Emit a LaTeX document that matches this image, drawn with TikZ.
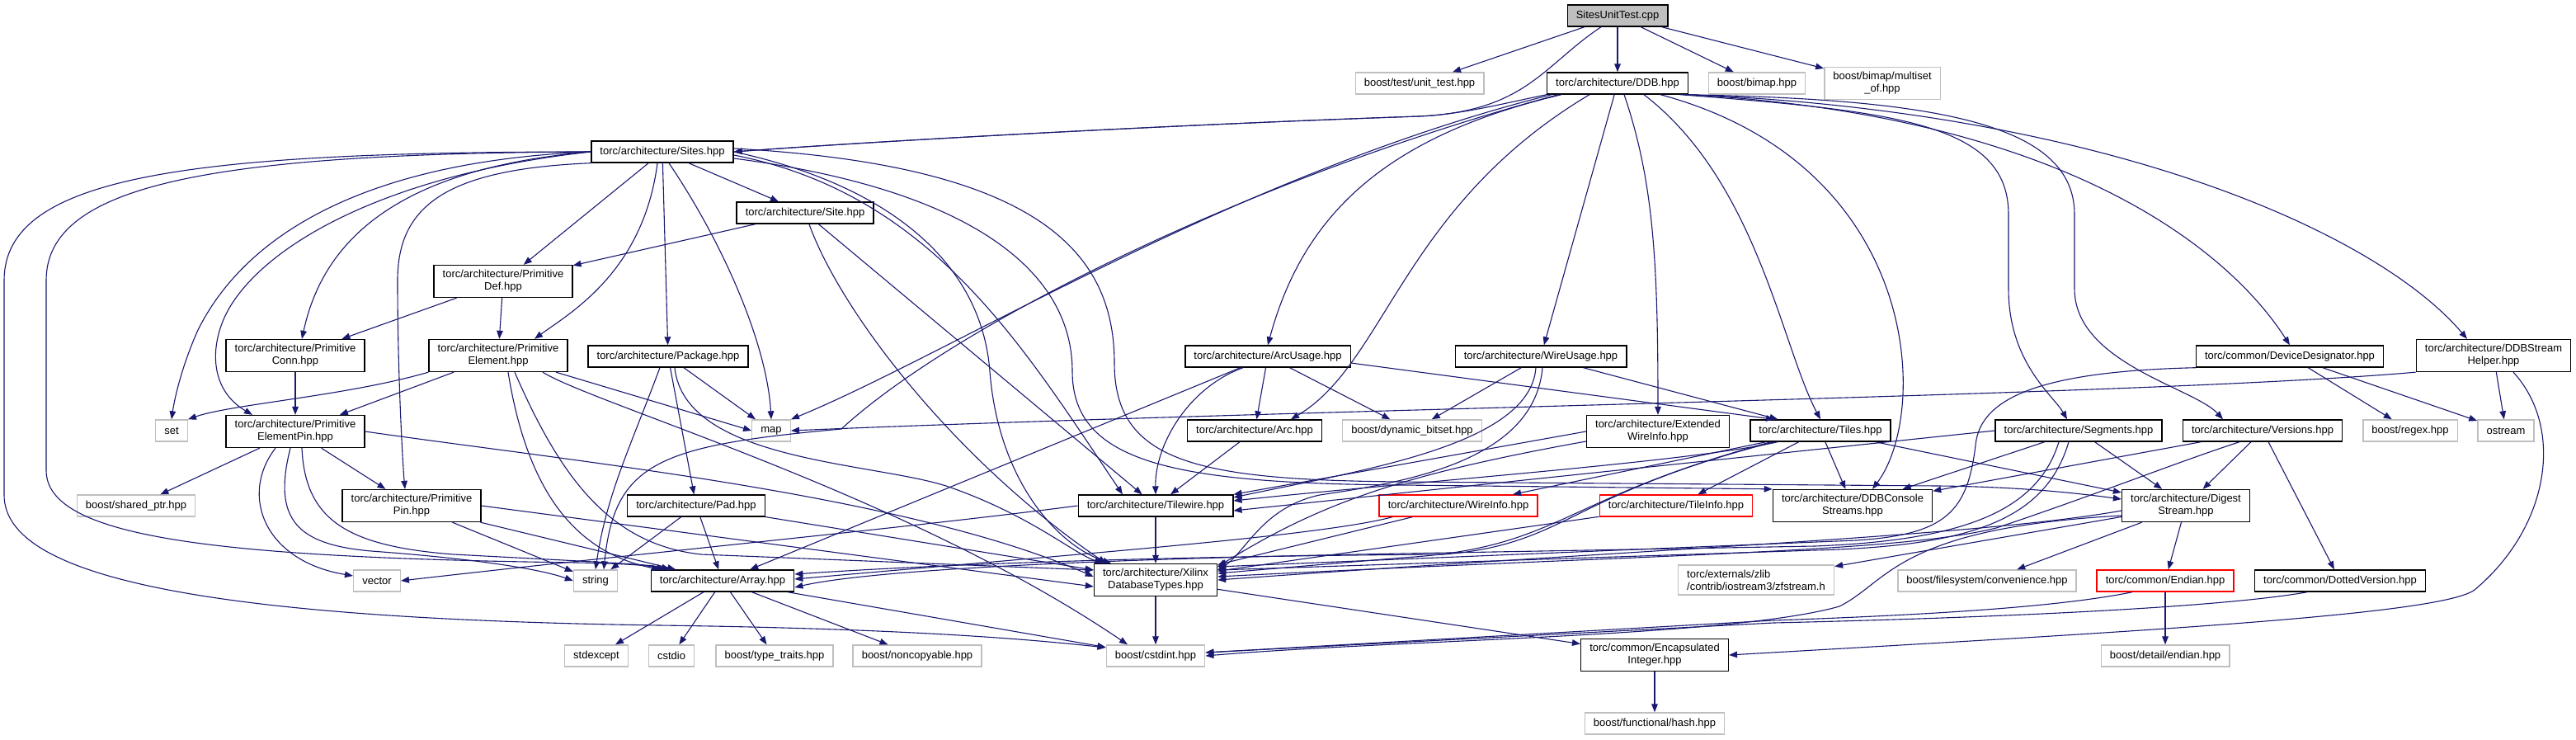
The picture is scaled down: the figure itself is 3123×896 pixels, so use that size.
\documentclass[tikz,border=0pt]{standalone}
\usepackage{fontspec}
\newfontfamily\dxfont{Liberation Sans}
\usepackage{tikz}
\usetikzlibrary{arrows.meta, calc}

\definecolor{edgeblue}{HTML}{191970}
\definecolor{sysgray}{HTML}{BFBFBF}

\begin{document}
\begin{tikzpicture}[
  x=0.5pt, y=-0.5pt,
  % ---- styles ----
  filebox/.style = {
    draw=black, line width=0.7pt, fill=white,
    font=\dxfont\fontsize{6.5}{7.4}\selectfont,
    inner xsep=5.3pt, inner ysep=3pt,
    minimum height=13pt,
    align=center
  },
  sysbox/.style = {filebox, draw=sysgray},
  redbox/.style = {filebox, draw=red},
  rootbox/.style = {filebox, fill=sysgray},
  dep/.style = {-{Triangle[length=5pt, width=3.8pt]}, line width=0.55pt, edgeblue}
]
\useasboundingbox (0,0) rectangle (3123,896);

% ============ FILES ============

% --- top ---
\node[rootbox] (root) at (1961,19) {SitesUnitTest.cpp};
\node[sysbox] (unittest) at (1721,101) {boost/test/unit\_test.hpp};
\node[filebox] (ddb) at (1961,101) {torc/architecture/DDB.hpp};
\node[sysbox] (bimap) at (2130,101) {boost/bimap.hpp};
\node[sysbox] (multiset) at (2282,101) {boost/bimap/multiset\\\_of.hpp};

% --- sites and primitives ---
\node[filebox] (sites) at (803,184) {torc/architecture/Sites.hpp};
\node[filebox] (site) at (976,258) {torc/architecture/Site.hpp};
\node[filebox] (primdef) at (610,341) {torc/architecture/Primitive\\Def.hpp};
\node[filebox] (primconn) at (358,431) {torc/architecture/Primitive\\Conn.hpp};
\node[filebox] (primelem) at (604,431) {torc/architecture/Primitive\\Element.hpp};
\node[filebox] (package) at (810,432) {torc/architecture/Package.hpp};
\node[filebox] (arcusage) at (1537,432) {torc/architecture/ArcUsage.hpp};
\node[filebox] (wireusage) at (1868,432) {torc/architecture/WireUsage.hpp};
\node[filebox] (devdesig) at (2776,432) {torc/common/DeviceDesignator.hpp};
\node[filebox] (streamhelper) at (3023,431) {torc/architecture/DDBStream\\Helper.hpp};

% --- middle row ---
\node[sysbox] (set) at (208,522) {set};
\node[filebox] (primelempin) at (358,523) {torc/architecture/Primitive\\ElementPin.hpp};
\node[sysbox] (map) at (935,522) {map};
\node[filebox] (arc) at (1521,522) {torc/architecture/Arc.hpp};
\node[sysbox] (bitset) at (1712,522) {boost/dynamic\_bitset.hpp};
\node[filebox] (extwireinfo) at (2010,523) {torc/architecture/Extended\\WireInfo.hpp};
\node[filebox] (tiles) at (2207,522) {torc/architecture/Tiles.hpp};
\node[filebox] (segments) at (2520,522) {torc/architecture/Segments.hpp};
\node[filebox] (versions) at (2743,522) {torc/architecture/Versions.hpp};
\node[sysbox] (regex) at (2922,522) {boost/regex.hpp};
\node[sysbox] (ostream) at (3038,522) {ostream};

\node[sysbox] (sharedptr) at (165,613) {boost/shared\_ptr.hpp};
\node[filebox] (primpin) at (499,613) {torc/architecture/Primitive\\Pin.hpp};
\node[filebox] (pad) at (844,613) {torc/architecture/Pad.hpp};
\node[filebox] (tilewire) at (1401,613) {torc/architecture/Tilewire.hpp};
\node[redbox] (wireinfo) at (1768,613) {torc/architecture/WireInfo.hpp};
\node[redbox] (tileinfo) at (2032,613) {torc/architecture/TileInfo.hpp};
\node[filebox] (consolestreams) at (2246,613) {torc/architecture/DDBConsole\\Streams.hpp};
\node[filebox] (digest) at (2650,613) {torc/architecture/Digest\\Stream.hpp};

% --- lower rows ---
\node[sysbox] (vector) at (457,704) {vector};
\node[sysbox] (string) at (722,704) {string};
\node[filebox] (array) at (876,704) {torc/architecture/Array.hpp};
\node[filebox] (xilinx) at (1401,703) {torc/architecture/Xilinx\\DatabaseTypes.hpp};
\node[sysbox, align=left] (zfstream) at (2129,703) {torc/externals/zlib\\/contrib/iostream3/zfstream.h};
\node[sysbox] (fsconv) at (2409,704) {boost/filesystem/convenience.hpp};
\node[redbox] (endian) at (2625,704) {torc/common/Endian.hpp};
\node[filebox] (dotted) at (2837,704) {torc/common/DottedVersion.hpp};

\node[sysbox] (stdexcept) at (723,795) {stdexcept};
\node[sysbox] (cstdio) at (814,795) {cstdio};
\node[sysbox] (typetraits) at (939,795) {boost/type\_traits.hpp};
\node[sysbox] (noncopyable) at (1112,795) {boost/noncopyable.hpp};
\node[sysbox] (cstdint) at (1401,795) {boost/cstdint.hpp};
\node[filebox] (encapint) at (2006,794) {torc/common/Encapsulated\\Integer.hpp};
\node[sysbox] (detailendian) at (2625,795) {boost/detail/endian.hpp};
\node[sysbox] (hash) at (2006,877) {boost/functional/hash.hpp};

% ============ INCLUDES ============

% SitesUnitTest.cpp
\draw[dep] (root) -- (unittest);
\draw[dep] (root) -- (ddb);
\draw[dep] (root) -- (bimap);
\draw[dep] (root) -- (multiset);
\draw[dep] ([xshift=-10pt]root.south) .. controls (1870,80) and (1850,135) .. (1720,141) .. controls (1400,152) and (1050,172) .. (sites.east);

% DDB.hpp
\draw[dep] (ddb.south west) .. controls (1820,126) and (1770,139) .. (1720,141) .. controls (1400,152) and (1050,172) .. (sites.east);
\draw[dep] ([xshift=-40pt]ddb.south) .. controls (1500,210) and (1150,430) .. (map.north east);
\draw[dep] ([xshift=-36pt]ddb.south) .. controls (1500,220) and (1150,400) .. (1020,520) .. controls (800,540) and (745,560) .. ([xshift=5pt]string.north);
\draw[dep] ([xshift=-34pt]ddb.south) .. controls (1680,165) and (1580,260) .. (arcusage.north);
\draw[dep] ([xshift=-17pt]ddb.south) .. controls (1700,250) and (1680,440) .. ([xshift=22pt]arc.north);
\draw[dep] (ddb) -- (wireusage);
\draw[dep] ([xshift=4pt]ddb.south) .. controls (2005,220) and (2010,320) .. (extwireinfo.north);
\draw[dep] ([xshift=16pt]ddb.south) .. controls (2130,220) and (2160,420) .. (tiles.north);
\draw[dep] ([xshift=26pt]ddb.south) .. controls (2330,200) and (2340,500) .. ([xshift=12pt]consolestreams.north);
\draw[dep] ([xshift=38pt]ddb.south) .. controls (2300,135) and (2435,150) .. (2435,260) -- (2435,350) .. controls (2435,440) and (2490,480) .. ([xshift=-7pt]segments.north);
\draw[dep] ([xshift=40pt]ddb.south) .. controls (2350,120) and (2515,150) .. (2515,260) -- (2515,350) .. controls (2515,440) and (2660,470) .. ([xshift=-24pt]versions.north);
\draw[dep] (ddb.south east) .. controls (2500,140) and (2700,300) .. (devdesig.north);
\draw[dep] (ddb.south east) .. controls (2550,135) and (2880,280) .. ([xshift=-16pt]streamhelper.north);

% Sites.hpp
\draw[dep] (sites) -- (site);
\draw[dep] (sites) -- (primdef);
\draw[dep] (sites) -- (package);
\draw[dep] ([xshift=-3pt]sites.south) .. controls (780,330) and (690,380) .. ([xshift=22pt]primelem.north);
\draw[dep] (sites.west) .. controls (470,205) and (390,300) .. ([xshift=4pt]primconn.north);
\draw[dep] (sites.south west) .. controls (540,205) and (482,250) .. (482,340) .. controls (482,450) and (488,560) .. ([xshift=-4pt]primpin.north);
\draw[dep] (sites.west) .. controls (480,210) and (330,290) .. (280,370) .. controls (255,410) and (250,470) .. ([xshift=-26pt]primelempin.north);
\draw[dep] (sites.west) .. controls (450,195) and (300,280) .. (240,400) .. controls (222,440) and (212,480) .. (set.north);
\draw[dep] (sites.west) .. controls (250,186) and (56,225) .. (56,340) -- (56,570) .. controls (56,650) and (250,676) .. (700,682) .. controls (760,683) and (790,686) .. ([xshift=-35pt]array.north);
\draw[dep] (sites.west) .. controls (220,184) and (5,215) .. (5,340) -- (5,600) .. controls (5,700) and (250,750) .. (800,758) .. controls (1100,762) and (1250,775) .. ([yshift=5pt]cstdint.west);
\draw[dep] ([xshift=4pt]sites.south) .. controls (880,300) and (930,420) .. (map.north);
\draw[dep] (sites.east) .. controls (1080,225) and (1190,320) .. (1200,450) .. controls (1210,580) and (1280,660) .. ([xshift=-27pt]xilinx.north);
\draw[dep] ([yshift=-2pt]sites.east) .. controls (1130,235) and (1240,420) .. ([xshift=-20pt]tilewire.north);
\draw[dep] ([yshift=-4pt]sites.east) .. controls (1180,230) and (1300,330) .. (1300,450) .. controls (1300,560) and (1420,586) .. (1700,588) -- (consolestreams.north west);
\draw[dep] ([yshift=2pt]sites.east) .. controls (1250,200) and (1351,300) .. (1351,440) .. controls (1351,560) and (1450,582) .. (1700,584) -- (2350,589) .. controls (2450,590) and (2520,598) .. ([yshift=4pt]digest.west);

% Site.hpp
\draw[dep] (site) -- (primdef);
\draw[dep] (site) .. controls (1020,380) and (1160,560) .. ([xshift=-30pt]xilinx.north);
\draw[dep] (site) -- (tilewire);

% PrimitiveDef.hpp, PrimitiveConn.hpp
\draw[dep] (primdef) -- (primconn);
\draw[dep] (primdef) -- (primelem);
\draw[dep] (primconn) -- (primelempin);

% PrimitiveElement.hpp
\draw[dep] (primelem.south west) .. controls (420,480) and (280,490) .. (set.north east);
\draw[dep] (primelem) -- (primelempin);
\draw[dep] ([xshift=35pt]primelem.south) -- (map.west);
\draw[dep] ([xshift=6pt]primelem.south) .. controls (640,600) and (700,670) .. ([xshift=-38pt]array.north);
\draw[dep] ([xshift=10pt]primelem.south) .. controls (680,580) and (740,660) .. (850,672) -- ([yshift=6pt]xilinx.west);
\draw[dep] ([xshift=27pt]primelem.south) .. controls (720,490) and (1100,600) .. ([xshift=-17pt]cstdint.north);

% PrimitiveElementPin.hpp
\draw[dep] (primelempin) -- (sharedptr);
\draw[dep] ([xshift=-12pt]primelempin.south) .. controls (290,600) and (320,680) .. ([yshift=3pt]vector.west);
\draw[dep] ([xshift=-3pt]primelempin.south) .. controls (330,630) and (360,660) .. (450,668) .. controls (560,676) and (650,688) .. (string.west);
\draw[dep] ([xshift=4pt]primelempin.south) .. controls (370,630) and (420,662) .. (550,672) .. controls (700,680) and (790,684) .. ([xshift=-32pt]array.north);
\draw[dep] (primelempin) -- (primpin);
\draw[dep] (primelempin.east) .. controls (700,560) and (1100,600) .. ([yshift=2pt]xilinx.west);

% PrimitivePin.hpp
\draw[dep] (primpin) -- (string);
\draw[dep] (primpin) -- (array);
\draw[dep] (primpin.east) -- ([yshift=-4pt]xilinx.west);

% Package.hpp
\draw[dep] (package) -- (map);
\draw[dep] (package) -- (pad);
\draw[dep] ([xshift=-5pt]package.south) .. controls (765,540) and (735,600) .. (string.north);
\draw[dep] ([xshift=4pt]package.south) .. controls (830,560) and (1060,560) .. (1150,590) .. controls (1250,625) and (1300,670) .. ([xshift=-32pt]xilinx.north);

% Pad.hpp
\draw[dep] (pad) -- (string);
\draw[dep] (pad) -- (array);
\draw[dep] (pad) -- (xilinx);

% ArcUsage.hpp
\draw[dep] (arcusage) -- (arc);
\draw[dep] (arcusage) -- (bitset);
\draw[dep] ([yshift=-4pt]arcusage.east) -- ([xshift=-28pt]tiles.north);
\draw[dep] (arcusage) -- (array);
\draw[dep] ([xshift=-15pt]arcusage.south) .. controls (1440,470) and (1400,540) .. (tilewire.north);

% Arc.hpp
\draw[dep] (arc) -- (tilewire);

% WireUsage.hpp
\draw[dep] (wireusage) -- (bitset);
\draw[dep] (wireusage) -- (tiles);
\draw[dep] ([xshift=-3pt]wireusage.south) .. controls (1855,540) and (1650,570) .. ([yshift=5pt]tilewire.east);
\draw[dep] ([xshift=1pt]wireusage.south) .. controls (1860,560) and (1700,585) .. (1600,600) .. controls (1530,615) and (1510,670) .. ([yshift=6pt]xilinx.east);

% ExtendedWireInfo.hpp
\draw[dep] (extwireinfo.west) -- (tilewire.north east);
\draw[dep] ([yshift=-6pt]extwireinfo.west) .. controls (1700,575) and (1600,610) .. ([yshift=8pt]xilinx.east);

% Tiles.hpp
\draw[dep] (tiles) -- (wireinfo);
\draw[dep] (tiles) -- (tileinfo);
\draw[dep] (tiles) -- (consolestreams);
\draw[dep] (tiles) -- (digest);
\draw[dep] ([xshift=-26pt]tiles.south) .. controls (2050,560) and (1700,585) .. ([yshift=3pt]tilewire.east);
\draw[dep] ([xshift=-28pt]tiles.south) .. controls (1900,600) and (1900,660) .. (1750,672) .. controls (1300,675) and (1050,690) .. ([yshift=4pt]array.east);
\draw[dep] ([xshift=-30pt]tiles.south) .. controls (1890,605) and (1890,665) .. (1700,676) -- ([yshift=4pt]xilinx.east);

% Segments.hpp
\draw[dep] (segments.west) -- ([yshift=-3pt]tilewire.east);
\draw[dep] (segments) -- (consolestreams);
\draw[dep] (segments) -- (digest);
\draw[dep] ([xshift=-12pt]segments.south) .. controls (2470,620) and (2380,655) .. (2200,662) -- (1700,671) .. controls (1300,678) and (1050,692) .. ([yshift=-4pt]array.east);
\draw[dep] ([xshift=-6pt]segments.south) .. controls (2480,630) and (2390,662) .. (2200,667) -- ([yshift=6pt]xilinx.east);

% Versions.hpp
\draw[dep] (versions) -- (consolestreams);
\draw[dep] (versions) -- (digest);
\draw[dep] (versions) -- (dotted);
\draw[dep] ([xshift=-14pt]versions.south) .. controls (2640,560) and (2540,600) .. (2420,640) .. controls (2300,670) and (2000,672) .. ([yshift=2pt]xilinx.east);

% DeviceDesignator.hpp
\draw[dep] (devdesig) -- (regex);
\draw[dep] (devdesig) -- (ostream);
\draw[dep] (devdesig.south west) .. controls (2480,450) and (2400,480) .. (2395,540) .. controls (2385,620) and (2360,648) .. (2250,655) -- ([yshift=8pt]xilinx.east);

% DDBStreamHelper.hpp
\draw[dep] (streamhelper.south west) .. controls (2600,480) and (1600,495) .. (map.east);
\draw[dep] (streamhelper) -- (ostream);
\draw[dep] ([xshift=12pt]streamhelper.south) .. controls (3110,520) and (3090,640) .. (3000,715) .. controls (2960,745) and (2600,765) .. (encapint.east);

% Tilewire.hpp
\draw[dep] (tilewire) -- (xilinx);
\draw[dep] (tilewire.west) .. controls (1100,640) and (800,668) .. (vector.east);

% WireInfo.hpp, TileInfo.hpp
\draw[dep] ([xshift=-40pt]wireinfo.south) .. controls (1600,650) and (1300,672) .. ([yshift=1pt]array.east);
\draw[dep] (wireinfo) -- (xilinx);
\draw[dep] (tileinfo) -- (xilinx);

% DigestStream.hpp
\draw[dep] (digest) -- (zfstream);
\draw[dep] (digest) -- (fsconv);
\draw[dep] (digest) -- (endian);
\draw[dep] ([yshift=-3pt]digest.west) .. controls (2400,650) and (2000,665) .. (xilinx.east);
\draw[dep] ([yshift=-6pt]digest.west) .. controls (2300,640) and (2290,705) .. (2230,735) .. controls (2100,772) and (1700,775) .. (cstdint.east);

% Endian.hpp, DottedVersion.hpp
\draw[dep] (endian) -- (detailendian);
\draw[dep] ([xshift=-20pt]endian.south) .. controls (2500,735) and (2350,745) .. (2150,752) -- ([yshift=2pt]cstdint.east);
\draw[dep] ([xshift=-20pt]dotted.south) .. controls (2700,735) and (2450,748) .. (2150,755) -- ([yshift=2pt]cstdint.east);

% XilinxDatabaseTypes.hpp, EncapsulatedInteger.hpp
\draw[dep] (xilinx) -- (cstdint);
\draw[dep] (xilinx) -- (encapint);
\draw[dep] (encapint) -- (hash);

% Array.hpp
\draw[dep] (array) -- (stdexcept);
\draw[dep] (array) -- (cstdio);
\draw[dep] (array) -- (typetraits);
\draw[dep] (array) -- (noncopyable);
\draw[dep] (array) -- (cstdint);

\end{tikzpicture}
\end{document}
